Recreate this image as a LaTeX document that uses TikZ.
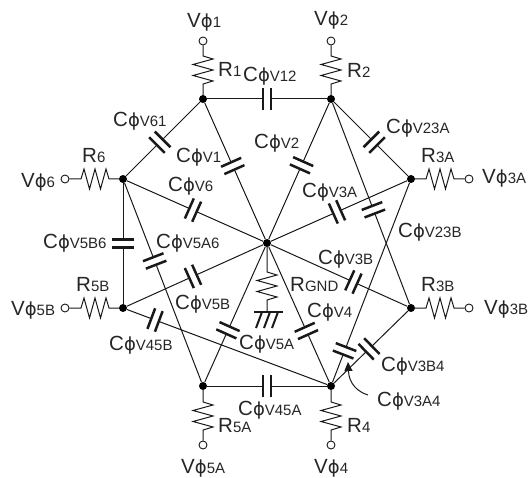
\documentclass[tikz,border=0pt]{standalone}
\usepackage{fontspec}
\setmainfont{Liberation Sans}
\newfontfamily\phifont{DejaVu Sans}
\usetikzlibrary{calc,arrows.meta}
\newcommand\bigf{\fontsize{20.5}{20.5}\selectfont}
\newcommand\subf{\fontsize{15}{15}\selectfont}
\newcommand\phig{{\phifont\fontsize{18}{18}\selectfont ϕ}}
\tikzset{
 wire/.style={line width=1pt,black!90},
 plate/.style={line width=2.5pt,black!90},
 dot/.style={circle,fill=black,inner sep=0pt,minimum size=8pt},
 term/.style={circle,draw=black!90,line width=.9pt,fill=white,inner sep=0pt,minimum size=8pt},
 lab/.style={anchor=base west,inner sep=0pt,text=black!85},
}
\newcommand\capl[3]{%
 \coordinate (m) at ($(#1)!#3!(#2)$);
 \coordinate (pa) at ($(m)!4pt!(#1)$);
 \coordinate (pb) at ($(m)!4pt!(#2)$);
 \draw[wire] (#1) -- (pa);
 \draw[wire] (#2) -- (pb);
 \draw[plate] ($(pa)!11pt!90:(m)$) -- ($(pa)!11pt!-90:(m)$);
 \draw[plate] ($(pb)!11pt!90:(m)$) -- ($(pb)!11pt!-90:(m)$);
}
\newcommand\resH[3]{\draw[wire] (#1) -- (#3) -- ++(3,-10) -- ++(5.5,20) -- ++(5.5,-20) -- ++(5.5,20) -- ++(5.5,-20) -- ++(3,10) -- (#2);}
\newcommand\resV[3]{\draw[wire] (#1) -- (#3) -- ++(10,3) -- ++(-20,5.5) -- ++(20,5.5) -- ++(-20,5.5) -- ++(20,5.5) -- ++(-10,3) -- (#2);}
\newcommand\clab[4]{\node[lab] (#1) at (#2,#3) {\bigf C\phig\subf #4};}
\newcommand\vlab[4]{\node[lab] (#1) at (#2,#3) {\bigf V\phig\subf #4};}
\newcommand\rlab[4]{\node[lab] (#1) at (#2,#3) {\bigf R\subf #4};}
\begin{document}
\begin{tikzpicture}[x=1pt,y=-1pt]
\useasboundingbox (0,0) rectangle (529,478);
\node[dot] (n1) at (203,99) {};
\node[dot] (n2) at (331,99) {};
\node[dot] (n3a) at (411,179) {};
\node[dot] (n3b) at (411,308) {};
\node[dot] (n4) at (331,386) {};
\node[dot] (n5a) at (203,386) {};
\node[dot] (n5b) at (123,308) {};
\node[dot] (n6) at (123,179) {};
\node[dot] (c) at (267,243) {};
\node[term] (t1) at (203,41) {};
\node[term] (t2) at (331,41) {};
\node[term] (t3a) at (469,179) {};
\node[term] (t3b) at (469,308) {};
\node[term] (t4) at (331,445) {};
\node[term] (t5a) at (203,445) {};
\node[term] (t5b) at (65,308) {};
\node[term] (t6) at (65,179) {};
\coordinate (gnd) at (267,312);
% resistors
\resV{t1}{n1}{203,56}
\resV{t2}{n2}{331,56}
\resV{n5a}{t5a}{203,402}
\resV{n4}{t4}{331,402}
\resV{c}{gnd}{267,272}
\resH{t6}{n6}{81,179}
\resH{t5b}{n5b}{81,308}
\resH{n3a}{t3a}{426,179}
\resH{n3b}{t3b}{426,308}
% ground
\draw[plate] (254,312) -- (283,312);
\draw[line width=2pt,black!90] (262,312) -- (256,328) (270,312) -- (264,328) (278,312) -- (272,328);
% capacitors
\capl{n1}{n2}{.5}
\capl{n1}{n6}{.54}
\capl{n1}{c}{.465}
\capl{n2}{c}{.46}
\capl{n6}{c}{.486}
\capl{n2}{n3a}{.54}
\capl{c}{n3a}{.486}
\capl{n2}{n3b}{.53}
\capl{n3a}{n4}{.83}
\capl{n3b}{n4}{.525}
\capl{c}{n3b}{.6}
\capl{c}{n4}{.615}
\capl{c}{n5a}{.61}
\capl{n5a}{n4}{.5}
\capl{n5b}{n4}{.154}
\capl{n5b}{c}{.486}
\capl{n6}{n5b}{.5}
\capl{n6}{n5a}{.396}
% labels
\vlab{lv1}{187}{28}{1}
\vlab{lv2}{314}{26}{2}
\vlab{lv3a}{482}{184}{3A}
\vlab{lv3b}{484}{314}{3B}
\vlab{lv4}{314}{473}{4}
\vlab{lv5a}{181}{473}{5A}
\vlab{lv5b}{11}{315}{5B}
\vlab{lv6}{21}{188}{6}
\rlab{lr1}{218}{77}{1}
\rlab{lr2}{347}{78}{2}
\rlab{lr3a}{421}{163}{3A}
\rlab{lr3b}{421}{291}{3B}
\rlab{lr4}{347}{432}{4}
\rlab{lr5a}{218}{432}{5A}
\rlab{lr5b}{76}{291}{5B}
\rlab{lr6}{82}{163}{6}
\rlab{lrg}{290}{291}{GND}
\clab{l12}{243}{82}{V12}
\clab{l61}{113}{127}{V61}
\clab{l1}{176}{163}{V1}
\clab{l2}{254}{149}{V2}
\clab{l23a}{386}{134}{V23A}
\clab{l23b}{398}{237}{V23B}
\clab{l3a}{302}{197}{V3A}
\clab{l3b}{318}{264}{V3B}
\clab{l4}{307}{317}{V4}
\clab{l6}{168}{192}{V6}
\clab{l5b6}{43}{248}{V5B6}
\clab{l5a6}{156}{248}{V5A6}
\clab{l5b}{175}{309}{V5B}
\clab{l5a}{239}{349}{V5A}
\clab{l45b}{109}{350}{V45B}
\clab{l45a}{238}{415}{V45A}
\clab{l3b4}{381}{371}{V3B4}
\clab{l3a4}{377}{406}{V3A4}
% arrow
\coordinate (tip) at (348,362);
\coordinate (tail) at (368,395);
\draw[wire,-{Triangle[length=9pt,width=8pt]}] (tail) .. controls (358,392) and (349,384) .. (tip);
\end{tikzpicture}
\end{document}
